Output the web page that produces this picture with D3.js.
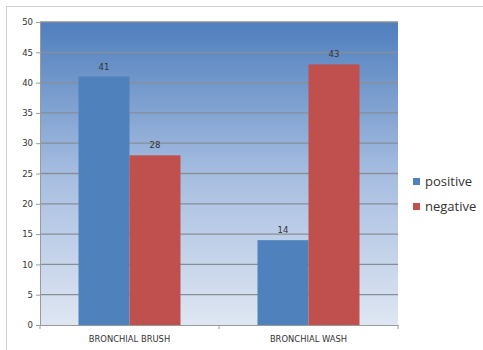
<!DOCTYPE html>
<html><head><meta charset="utf-8">
<script src="https://cdn.jsdelivr.net/npm/d3@7"></script>
<style>body{margin:0;background:#fff}svg{display:block}</style>
</head><body>
<svg id="c" width="483" height="350"></svg>
<script>
const categories = ["BRONCHIAL BRUSH", "BRONCHIAL WASH"];
const seriesNames = ["positive", "negative"];
const positive = [41, 14];
const negative = [28, 43];
const yTicks = [0, 5, 10, 15, 20, 25, 30, 35, 40, 45, 50];
const colors = ["#4f81bd", "#c0504d"];

const svg = d3.select("#c");
const m = {l: 40, r: 398, t: 22, b: 325};

// frame
svg.append("rect").attr("x", 6.5).attr("y", 6.5).attr("width", 490).attr("height", 360)
  .attr("fill", "#fff").attr("stroke", "#d0d0d0");

const defs = svg.append("defs");
const g = defs.append("linearGradient").attr("id", "bg").attr("x1", 0).attr("y1", 0).attr("x2", 0).attr("y2", 1);
g.append("stop").attr("offset", "0%").attr("stop-color", "#4f7fbd");
g.append("stop").attr("offset", "50%").attr("stop-color", "#a6bde0");
g.append("stop").attr("offset", "100%").attr("stop-color", "#dee6f2");

const x0 = d3.scaleBand().domain(categories).range([m.l, m.r]).paddingInner(0).paddingOuter(0);
const x1 = d3.scaleBand().domain(seriesNames).range([0, x0.bandwidth()]).paddingInner(0).paddingOuter(0.755);
const y = d3.scaleLinear().domain([0, 50]).range([m.b, m.t]);

svg.append("rect").attr("x", m.l).attr("y", m.t).attr("width", m.r - m.l).attr("height", m.b - m.t)
  .attr("fill", "url(#bg)");

// gridlines
svg.append("g").selectAll("line").data(yTicks.filter(d => d > 0)).join("line")
  .attr("x1", m.l).attr("x2", m.r).attr("y1", d => y(d)).attr("y2", d => y(d))
  .attr("stroke", "#878e98").attr("stroke-width", 1.3);

// bars
const data = categories.map((c, i) => ({c, vals: [{s: "positive", v: positive[i]}, {s: "negative", v: negative[i]}]}));
const grp = svg.append("g").selectAll("g").data(data).join("g")
  .attr("transform", d => `translate(${x0(d.c)},0)`);
grp.selectAll("rect").data(d => d.vals).join("rect")
  .attr("x", d => x1(d.s)).attr("width", x1.bandwidth())
  .attr("y", d => y(d.v)).attr("height", d => y(0) - y(d.v))
  .attr("fill", (d, i) => colors[i]);
grp.selectAll("text").data(d => d.vals).join("text")
  .attr("x", d => x1(d.s) + x1.bandwidth() / 2).attr("y", d => y(d.v) - 7)
  .attr("text-anchor", "middle").attr("font-family", "DejaVu Sans, sans-serif")
  .attr("font-size", 8.5).attr("fill", "#333").text(d => d.v);

// y axis
const ya = svg.append("g").attr("transform", `translate(${m.l},0)`)
  .call(d3.axisLeft(y).tickValues(yTicks).tickSize(4).tickPadding(3));
ya.select(".domain").attr("stroke", "#9a9a9a");
ya.selectAll(".tick line").attr("stroke", "#9a9a9a");
ya.selectAll("text").attr("font-family", "DejaVu Sans, sans-serif").attr("font-size", 8.5).attr("fill", "#333");

// x axis
const xa = svg.append("g").attr("transform", `translate(0,${m.b})`)
  .call(d3.axisBottom(x0).tickSize(0).tickPadding(11));
xa.select(".domain").attr("stroke", "#9a9a9a");
xa.selectAll("text").attr("font-family", "DejaVu Sans, sans-serif").attr("font-size", 8.4).attr("fill", "#333");
xa.selectAll(".sep").data([m.l, x0(categories[1]), m.r]).join("line").attr("class", "sep")
  .attr("x1", d => d).attr("x2", d => d).attr("y1", 0).attr("y2", 4).attr("stroke", "#9a9a9a");

// legend
const lg = svg.append("g").selectAll("g").data(seriesNames).join("g")
  .attr("transform", (d, i) => `translate(413,${184 + i * 25})`);
lg.append("rect").attr("x", 0).attr("y", -6).attr("width", 7).attr("height", 7).attr("fill", (d, i) => colors[i]);
lg.append("text").attr("x", 12).attr("y", 1.5).attr("font-family", "Open Sans, sans-serif")
  .attr("font-size", 13).attr("fill", "#333").text(d => d);
</script>
</body></html>
